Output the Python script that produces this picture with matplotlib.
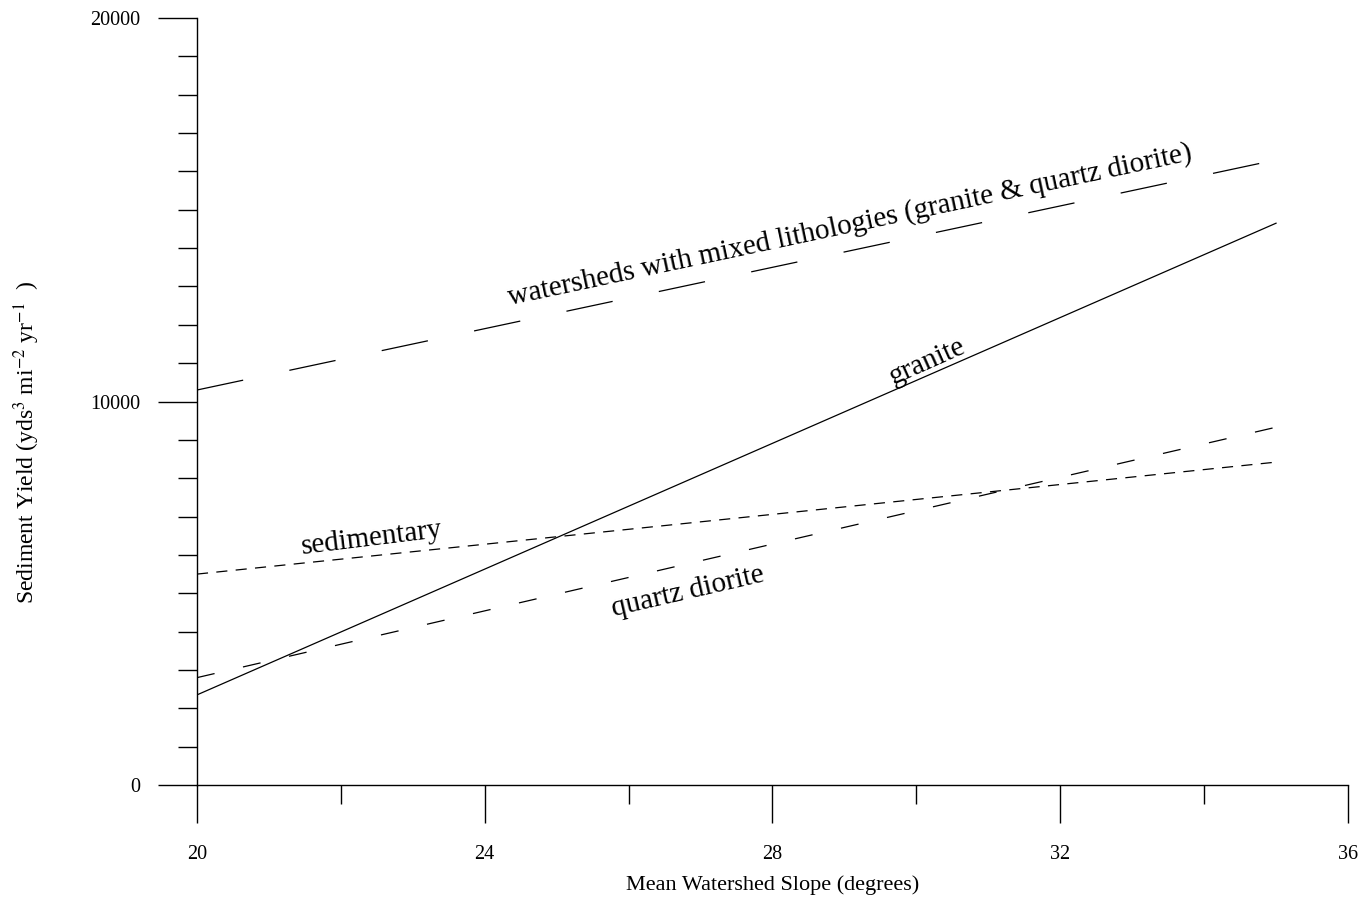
import numpy as np
from matplotlib import pyplot as plt
from matplotlib.ticker import MultipleLocator

plt.rcParams['font.family'] = ['Liberation Serif', 'DejaVu Serif']
plt.rcParams['mathtext.fontset'] = 'stix'
plt.rcParams['lines.scale_dashes'] = False


slope = [20, 35]
mixed = [10300, 16300]
granite = [2350, 14650]
sedimentary = [5500, 8420]
quartz_diorite = [2800, 9330]


def plot_yield(fname='out.png'):

    fig = plt.figure(figsize=(13.66, 9.02), dpi=100)
    ax = fig.add_axes([0.1442, 0.1297, 0.8426, 0.8503])

    lw = 0.9
    ax.plot(slope, mixed, color='k', lw=lw, linestyle=(0, (34, 34)))
    ax.plot(slope, granite, color='k', lw=lw)
    ax.plot(slope, sedimentary, color='k', lw=lw, linestyle=(0, (8, 6)))
    ax.plot(slope, quartz_diorite, color='k', lw=lw, linestyle=(0, (13, 21)))

    #Labels on the lines
    fs_note = 21
    ax.text(29.08, 14600, 'watersheds with mixed lithologies (granite & quartz diorite)',
            rotation=12, ha='center', va='center', fontsize=fs_note,
            rotation_mode='anchor')
    ax.text(30.15, 11030, 'granite', rotation=24, ha='center', va='center',
            fontsize=fs_note, rotation_mode='anchor')
    ax.text(22.43, 6441, 'sedimentary', rotation=7, ha='center', va='center',
            fontsize=fs_note, rotation_mode='anchor')
    ax.text(26.83, 5033, 'quartz diorite', rotation=13, ha='center', va='center',
            fontsize=fs_note, rotation_mode='anchor')

    #Formatting
    ax.set_xlim(20, 36)
    ax.set_ylim(0, 20000)
    for s in ['top', 'right']:
        ax.spines[s].set_visible(False)
    ax.spines['left'].set_linewidth(1.0)
    ax.spines['bottom'].set_linewidth(1.0)

    ax.xaxis.set_major_locator(MultipleLocator(4))
    ax.xaxis.set_minor_locator(MultipleLocator(2))
    ax.yaxis.set_major_locator(MultipleLocator(10000))
    ax.yaxis.set_minor_locator(MultipleLocator(1000))

    fs = 14.5
    ax.tick_params(axis='both', which='both', direction='out', width=1.0,
                   colors='k', labelsize=fs)
    ax.tick_params(axis='x', which='major', length=27, pad=16)
    ax.tick_params(axis='x', which='minor', length=13.5)
    ax.tick_params(axis='y', which='major', length=28, pad=13)
    ax.tick_params(axis='y', which='minor', length=14)

    ax.set_xlabel('Mean Watershed Slope (degrees)', fontsize=16)
    ax.xaxis.set_label_coords(0.5, -0.118)
    ax.set_ylabel(r'Sediment Yield (yds$^{3}$ mi$^{-2}$ yr$^{-1}$  )', fontsize=17)
    ax.yaxis.set_label_coords(-0.135, 0.447)

    if fname is not None:
        plt.savefig(fname, dpi=100)


plot_yield()
